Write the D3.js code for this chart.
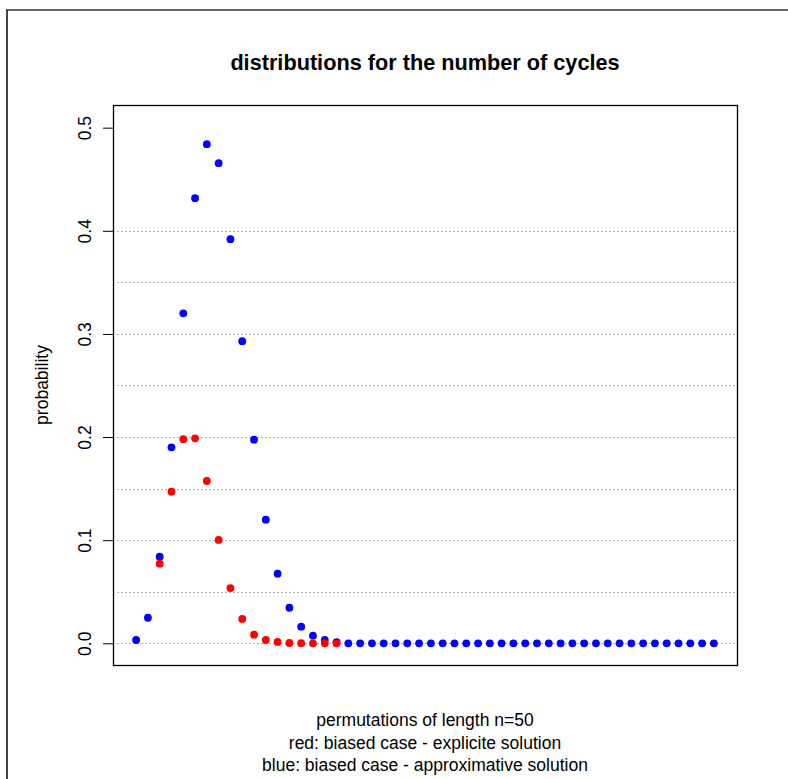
<!DOCTYPE html>
<html>
<head>
<meta charset="utf-8">
<script src="https://cdn.jsdelivr.net/npm/d3@7"></script>
<style>
  html, body { margin: 0; padding: 0; background: #fff; }
  svg { display: block; font-family: "Liberation Sans", Arial, sans-serif; }
</style>
</head>
<body>
<svg id="chart" width="788" height="779"></svg>
<script>
// number of cycles k = 1..50
const cycles = d3.range(1, 51);

// blue: biased case - approximative solution
const approxProb = [
  0.0032, 0.0248, 0.084, 0.190, 0.320, 0.4316, 0.484, 0.4656, 0.3919, 0.293,
  0.1975, 0.1199, 0.0675, 0.0345, 0.0161, 0.0074, 0.0032, 0.001, 0, 0,
  0, 0, 0, 0, 0, 0, 0, 0, 0, 0,
  0, 0, 0, 0, 0, 0, 0, 0, 0, 0,
  0, 0, 0, 0, 0, 0, 0, 0, 0, 0
];

// red: biased case - explicit solution (defined for k = 3..18)
const explicitProb = [
  null, null, 0.0772, 0.147, 0.1979, 0.1988, 0.1574, 0.1002, 0.0536, 0.0236,
  0.0084, 0.0032, 0.0013, 0.0003, 0.0001, 0, 0, 0, null, null,
  null, null, null, null, null, null, null, null, null, null,
  null, null, null, null, null, null, null, null, null, null,
  null, null, null, null, null, null, null, null, null, null
];

const yTicks = [0, 0.1, 0.2, 0.3, 0.4, 0.5];
const gridLevels = [0, 0.05, 0.1, 0.15, 0.2, 0.25, 0.3, 0.35, 0.4];

const titleText = "distributions for the number of cycles";
const yLabel = "probability";
const xLabelLines = [
  "permutations of length n=50",
  "red: biased case - explicite solution",
  "blue: biased case - approximative solution"
];

const svg = d3.select("#chart");

// outer frame
svg.append("line").attr("x1", 6).attr("x2", 788).attr("y1", 10).attr("y2", 10)
  .attr("stroke", "#666").attr("stroke-width", 2);
svg.append("line").attr("x1", 7).attr("x2", 7).attr("y1", 9).attr("y2", 779)
  .attr("stroke", "#444").attr("stroke-width", 2);

const plot = { left: 113, right: 737, top: 105, bottom: 665 };

const x = d3.scaleLinear().domain([-0.96, 51.96]).range([plot.left, plot.right]);
const y = d3.scaleLinear().domain([-0.02104, 0.5220]).range([plot.bottom, plot.top]);

// dotted horizontal grid
svg.append("g").selectAll("line").data(gridLevels).join("line")
  .attr("x1", plot.left).attr("x2", plot.right)
  .attr("y1", d => Math.round(y(d)) + 0.5).attr("y2", d => Math.round(y(d)) + 0.5)
  .attr("stroke", "#b4b4b4").attr("stroke-width", 1)
  .attr("stroke-dasharray", "2,2");

// y axis
const yAxis = d3.axisLeft(y).tickValues(yTicks).tickSize(10).tickFormat(d3.format(".1f"));
const gy = svg.append("g").attr("transform", `translate(${plot.left},0)`).call(yAxis);
gy.select(".domain").remove();
gy.selectAll(".tick line").attr("stroke", "#000");
gy.selectAll(".tick text").remove();
gy.selectAll(".tick").append("text")
  .attr("transform", "translate(-28,0) rotate(-90)")
  .attr("text-anchor", "middle")
  .attr("dy", "0.36em")
  .attr("fill", "#000")
  .style("font-size", "17.5px")
  .style("font-family", "'Liberation Sans', Arial, sans-serif")
  .text(d => d3.format(".1f")(d));

// points: blue first, red on top
const blue = cycles.map((k, i) => ({ k, p: approxProb[i] }));
const red = cycles.map((k, i) => ({ k, p: explicitProb[i] })).filter(d => d.p !== null);

svg.append("g").selectAll("circle").data(blue).join("circle")
  .attr("cx", d => x(d.k)).attr("cy", d => y(d.p)).attr("r", 3.9)
  .attr("fill", "#0000ff");

svg.append("g").selectAll("circle").data(red).join("circle")
  .attr("cx", d => x(d.k)).attr("cy", d => y(d.p)).attr("r", 3.9)
  .attr("fill", "#ff0000");

// plot box
svg.append("rect")
  .attr("x", plot.left + 0.5).attr("y", plot.top + 0.5)
  .attr("width", plot.right - plot.left).attr("height", plot.bottom - plot.top)
  .attr("fill", "none").attr("stroke", "#000").attr("stroke-width", 1.3);

const cx = (plot.left + plot.right) / 2;

// title
svg.append("text")
  .attr("x", cx).attr("y", 70)
  .attr("text-anchor", "middle")
  .style("font-size", "21.7px").style("font-weight", "bold")
  .text(titleText);

// y label
svg.append("text")
  .attr("transform", `translate(42,${(plot.top + plot.bottom) / 2}) rotate(-90)`)
  .attr("text-anchor", "middle").attr("dy", "0.36em")
  .style("font-size", "17.5px")
  .text(yLabel);

// x label lines
svg.append("g").selectAll("text").data(xLabelLines).join("text")
  .attr("x", cx).attr("y", (d, i) => 726 + i * 22.5)
  .attr("text-anchor", "middle")
  .style("font-size", "17.5px")
  .text(d => d);
</script>
</body>
</html>
